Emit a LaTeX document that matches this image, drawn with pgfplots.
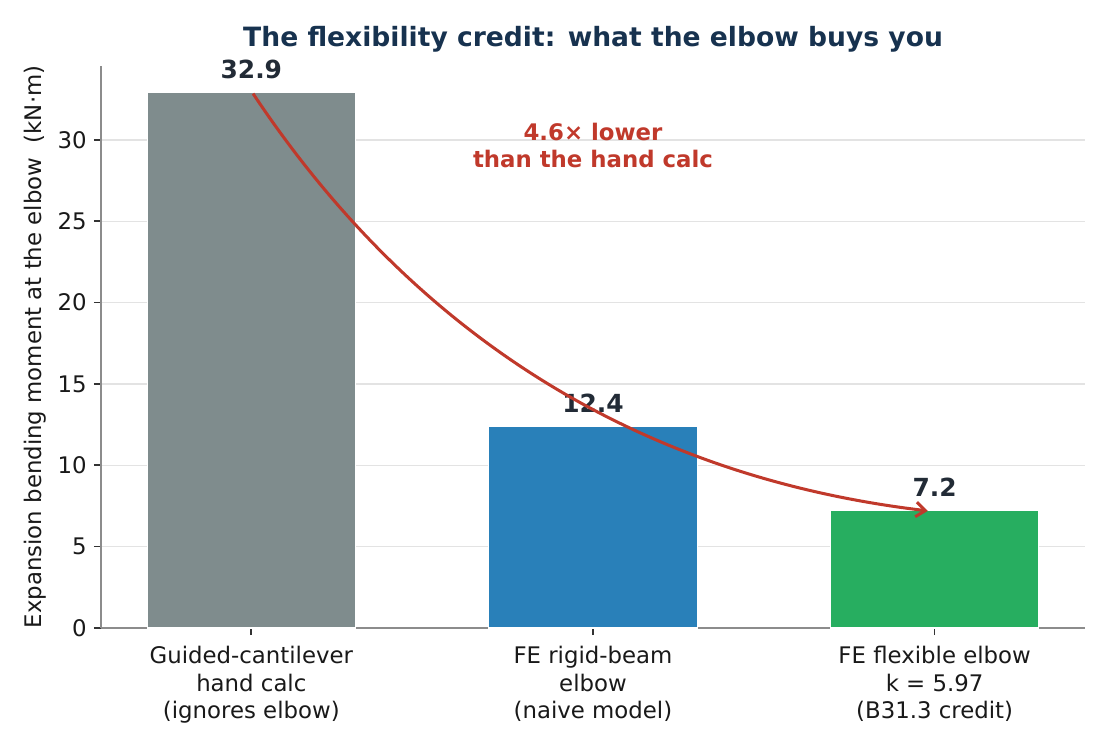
\documentclass[border=0pt]{standalone}
\usepackage{fontspec}
\setmainfont{DejaVu Sans}
\usepackage{pgfplots}
\pgfplotsset{compat=1.18}
\usetikzlibrary{arrows.meta}
\definecolor{cgray}{HTML}{7F8C8D}
\definecolor{cblue}{HTML}{2980B9}
\definecolor{cgreen}{HTML}{27AE60}
\definecolor{cred}{HTML}{C0392B}
\definecolor{navy}{HTML}{17324F}
\definecolor{vlab}{HTML}{222B36}
\definecolor{spine}{HTML}{8C8C8C}
\definecolor{gridc}{HTML}{E3E3E3}
\begin{document}
\begin{tikzpicture}
\useasboundingbox (-48.48bp,-58.56bp) rectangle (484.32bp,301.44bp);
\begin{axis}[
  at={(0,0)}, anchor=south west,
  scale only axis,
  width=472.3bp, height=269.8bp,
  xmin=-0.44, xmax=2.44,
  ymin=0, ymax=34.55,
  axis lines*=left,
  axis line style={spine, line width=0.8bp},
  tick align=outside,
  major tick length=3.4bp,
  tick style={color=black!80, line width=0.8bp},
  xtick={0,1,2},
  xticklabels={{Guided-cantilever\\hand calc\\(ignores elbow)},{FE rigid-beam\\elbow\\(naive model)},{FE flexible elbow\\k = 5.97\\(B31.3 credit)}},
  ytick={0,5,10,15,20,25,30},
  tick label style={font=\fontsize{11}{13.2}\selectfont, text=black!90},
  xticklabel style={align=center, yshift=-2bp},
  /pgf/number format/assume math mode=true,
  ymajorgrids,
  grid style={gridc, line width=0.7bp},
  clip=false,
  ybar, bar width=0.61, bar shift=0pt,
]
\addplot[fill=cgray, draw=white, line width=0.5bp] coordinates {(0,32.9)};
\addplot[fill=cblue, draw=white, line width=0.5bp] coordinates {(1,12.4)};
\addplot[fill=cgreen, draw=white, line width=0.5bp] coordinates {(2,7.2)};
\node[anchor=base, yshift=6.8bp, font=\fontsize{12}{14}\selectfont\bfseries, text=vlab] at (axis cs:0,32.9) {32.9};
\node[anchor=base, yshift=6.8bp, font=\fontsize{12}{14}\selectfont\bfseries, text=vlab] at (axis cs:1,12.4) {12.4};
\node[anchor=base, yshift=6.8bp, font=\fontsize{12}{14}\selectfont\bfseries, text=vlab] at (axis cs:2,7.2) {7.2};
\draw[cred, line width=1.45bp, -{Straight Barb[length=4.5bp,width=7bp]}] (axis cs:0.005,32.85) .. controls (axis cs:0.48,17.85) and (axis cs:1.14,9.29) .. (axis cs:1.98,7.2);
\node[anchor=base, font=\fontsize{11}{13}\selectfont\bfseries, text=cred] at (axis cs:1,29.96) {4.6× lower};
\node[anchor=base, font=\fontsize{11}{13}\selectfont\bfseries, text=cred] at (axis cs:1,28.32) {than the hand calc};
\end{axis}
\node[anchor=base, font=\fontsize{12.8}{15}\selectfont\bfseries, text=navy] at (236.2bp,278.9bp) {The flexibility credit: what the elbow buys you};
\node[rotate=90, font=\fontsize{11}{13}\selectfont, text=black!90] at (-31.7bp,134.9bp) {Expansion bending moment at the elbow\ \ (kN·m)};
\end{tikzpicture}
\end{document}
